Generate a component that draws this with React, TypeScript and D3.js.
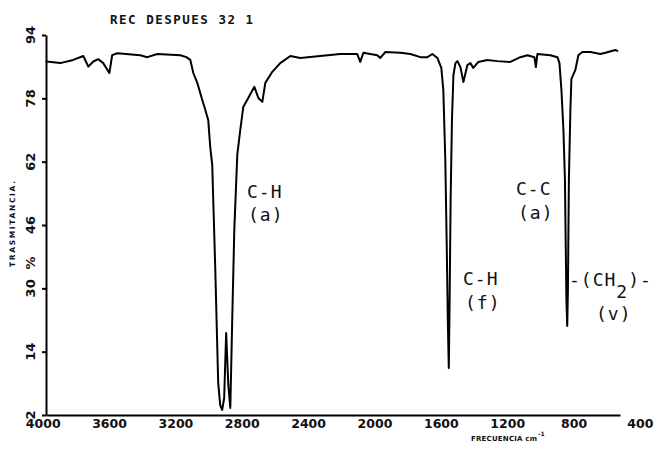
import React, { useEffect, useRef } from 'react';
import * as d3 from 'd3';

// IR spectrum: wavenumber (cm-1) and % transmittance
const wavenumbers = [
  3978, 3894, 3816, 3755, 3725, 3695, 3665, 3635, 3598, 3581, 3550, 3412, 3369, 3309,
  3170, 3134, 3110, 3092, 3068, 3038, 3020, 3002, 2990, 2978, 2960, 2942, 2930, 2918,
  2906, 2894, 2881, 2869, 2857, 2845, 2827, 2809, 2791, 2761, 2724, 2700, 2676, 2658,
  2616, 2568, 2507, 2447, 2327, 2206, 2104, 2086, 2067, 1983, 1965, 1934, 1844, 1784,
  1723, 1681, 1651, 1621, 1597, 1585, 1573, 1564, 1558, 1552, 1547, 1541, 1533, 1524,
  1512, 1500, 1482, 1464, 1440, 1422, 1404, 1374, 1320, 1259, 1181, 1121, 1078, 1036,
  1027, 1018, 940, 897, 885, 873, 861, 852, 843, 838, 834, 828, 819, 813, 789, 771,
  747, 698, 638, 608, 548, 536,
];
const transmittance = [
  87.3, 86.9, 87.7, 88.7, 86.0, 87.3, 87.9, 86.9, 84.4, 88.9, 89.4, 88.9, 88.4, 89.2,
  88.9, 88.4, 87.7, 84.4, 81.9, 77.6, 75.1, 72.5, 65.7, 61.2, 35.4, 6.1, 0.5, -0.7,
  2.3, 18.7, 5.6, -0.2, 22.8, 44.7, 63.7, 70.0, 75.8, 78.1, 80.9, 78.1, 77.1, 81.9,
  84.7, 86.9, 88.7, 88.2, 88.7, 89.2, 89.2, 87.2, 89.5, 88.9, 88.2, 89.7, 89.5, 89.2,
  88.4, 88.4, 89.2, 88.2, 85.7, 80.1, 62.4, 39.7, 22.0, 9.9, 27.1, 52.3, 72.5, 83.9,
  86.9, 87.4, 85.9, 82.1, 86.4, 86.9, 85.7, 87.2, 87.7, 87.4, 87.2, 88.4, 88.9, 88.4,
  85.9, 89.2, 88.9, 88.4, 86.9, 80.1, 70.0, 57.6, 27.1, 20.5, 29.6, 57.6, 75.1, 82.9, 85.2, 88.9,
  89.7, 89.7, 89.2, 89.5, 90.2, 90.0,
];

const xTickValues = [4000, 3600, 3200, 2800, 2400, 2000, 1600, 1200, 800, 400];
const xTickLabels = ['4000', '3600', '3200', '2800', '2400', '2000', '1600', '1200', '800', '400'];
const yTickValues = [-2, 14, 30, 46, 62, 78, 94];
const yTickLabels = ['2', '14', '30', '46', '62', '78', '94'];

const mono = '"DejaVu Sans Mono", monospace';
const sans = '"DejaVu Sans", sans-serif';

const Spectrum = () => {
  const svgRef = useRef<SVGSVGElement>(null);

  useEffect(() => {
    const svg = d3.select(svgRef.current);
    svg.selectAll('*').remove();

    const x = d3.scaleLinear().domain([3980, 520]).range([46, 620]);
    const y = d3.scaleLinear().domain([-2, 94]).range([415, 35]);

    // x axis
    const gx = svg.append('g')
      .attr('transform', 'translate(0,415)')
      .call(
        d3.axisBottom(x)
          .tickValues(xTickValues)
          .tickSizeInner(0)
          .tickSizeOuter(0)
          .tickPadding(4)
          .tickFormat((d, i) => xTickLabels[i])
      );
    gx.select('.domain').attr('stroke', '#000').attr('stroke-width', 2);
    gx.selectAll('text')
      .attr('font-family', sans)
      .attr('font-weight', 'bold')
      .attr('font-size', 12.5)
      .attr('fill', '#111');

    // y axis
    const gy = svg.append('g')
      .attr('transform', 'translate(46,0)')
      .call(
        d3.axisLeft(y)
          .tickValues(yTickValues)
          .tickSizeInner(4)
          .tickSizeOuter(0)
          .tickFormat(() => '')
      );
    gy.select('.domain').attr('stroke', '#000').attr('stroke-width', 2);
    gy.selectAll('line').attr('stroke', '#000').attr('stroke-width', 2);

    svg.append('g')
      .selectAll('text')
      .data(yTickValues)
      .enter()
      .append('text')
      .attr('transform', d => `translate(30,${y(d)}) rotate(-90)`)
      .attr('text-anchor', 'middle')
      .attr('dy', '0.36em')
      .attr('font-family', sans)
      .attr('font-weight', 'bold')
      .attr('font-size', 13)
      .attr('fill', '#111')
      .text((d, i) => yTickLabels[i]);

    // spectrum
    const points = wavenumbers.map((w, i) => [w, transmittance[i]] as [number, number]);
    const line = d3.line<[number, number]>()
      .x(d => x(d[0]))
      .y(d => y(d[1]));

    svg.append('path')
      .datum(points)
      .attr('d', line)
      .attr('fill', 'none')
      .attr('stroke', '#000')
      .attr('stroke-width', 2)
      .attr('stroke-linejoin', 'round')
      .attr('stroke-linecap', 'round');
  }, []);

  return (
    <svg
      ref={svgRef}
      width={657}
      height={455}
      style={{ position: 'absolute', left: 0, top: 0, background: '#fff' }}
    />
  );
};

const Labels = () => (
  <svg width={657} height={455} style={{ position: 'absolute', left: 0, top: 0, pointerEvents: 'none' }}>
    <text x={110} y={24} fontFamily={mono} fontWeight="bold" fontSize={12.5} textLength={143} fill="#111">
      REC DESPUES 32 1
    </text>
    <text
      transform="translate(15,224) rotate(-90)"
      textAnchor="middle"
      fontFamily={sans}
      fontWeight="bold"
      fontSize={7.5}
      textLength={86}
      fill="#111"
    >
      TRASMITANCIA.
    </text>
    <text
      transform="translate(30,263) rotate(-90)"
      textAnchor="middle"
      dy="0.36em"
      fontFamily={sans}
      fontWeight="bold"
      fontSize={13}
      fill="#111"
    >
      %
    </text>
    <text x={471} y={441} fontFamily={sans} fontWeight="bold" fontSize={7} textLength={66} fill="#111">
      FRECUENCIA cm
    </text>
    <text x={538} y={436} fontFamily={sans} fontWeight="bold" fontSize={6} fill="#111">-1</text>

    <g fontFamily={mono} fontSize={18} fill="#111" letterSpacing={1}>
      <text x={247} y={198}>C-H</text>
      <text x={248} y={221}>(a)</text>
      <text x={516} y={195}>C-C</text>
      <text x={518} y={219}>(a)</text>
      <text x={463} y={285}>C-H</text>
      <text x={465} y={309}>(f)</text>
      <text x={569} y={286}>
        -(CH<tspan dy={12}>2</tspan><tspan dy={-12}>)-</tspan>
      </text>
      <text x={596} y={320}>(v)</text>
    </g>
  </svg>
);

const App = () => (
  <div style={{ position: 'absolute', left: 0, top: 0, width: 657, height: 455 }}>
    <Spectrum />
    <Labels />
  </div>
);

export default App;
